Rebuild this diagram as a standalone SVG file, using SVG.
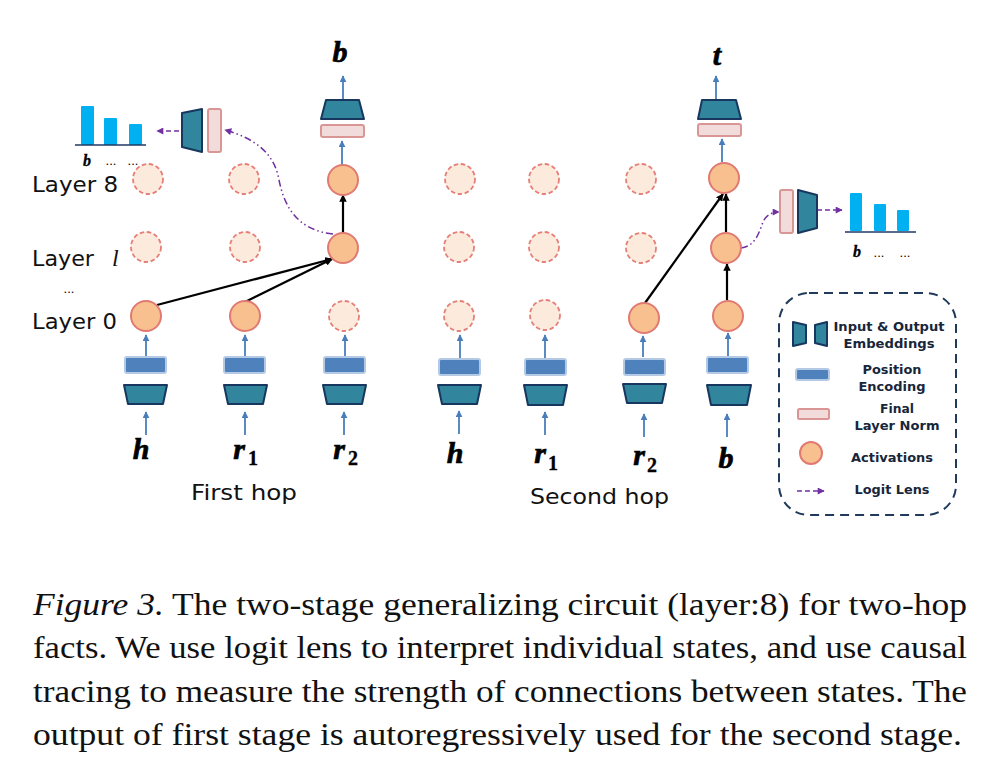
<svg xmlns="http://www.w3.org/2000/svg" width="1003" height="773" viewBox="0 0 1003 773">
<defs>
<marker id="ab" viewBox="0 0 10 10" refX="9" refY="5" markerWidth="7" markerHeight="7" markerUnits="userSpaceOnUse" orient="auto"><path d="M0 0L10 5L0 10Z" fill="#4a7ebb"/></marker>
<marker id="ak" viewBox="0 0 10 10" refX="9" refY="5" markerWidth="7.5" markerHeight="7.5" markerUnits="userSpaceOnUse" orient="auto"><path d="M0 0L10 5L0 10Z" fill="#000"/></marker>
<marker id="ap" viewBox="0 0 10 10" refX="9" refY="5" markerWidth="8" markerHeight="7" markerUnits="userSpaceOnUse" orient="auto"><path d="M0 0L10 5L0 10Z" fill="#7030a0"/></marker>
</defs>
<style>
.on{fill:#f8c08e;stroke:#e07a72;stroke-width:2}
.off{fill:#fcebdc;stroke:#e57f78;stroke-width:1.8;stroke-dasharray:4.5 2.6}
.pe{fill:#4f81bd;stroke:#b4c9e4;stroke-width:2}
.em{fill:#31859c;stroke:#17375e;stroke-width:2;stroke-linejoin:round}
.ln{fill:#f2dcdb;stroke:#d99694;stroke-width:2}
.bar{fill:#00b0f0}
.ax{stroke:#1f3864;stroke-width:1.3;fill:none}
.up{stroke:#4a7ebb;stroke-width:1.8;fill:none;marker-end:url(#ab)}
.bk{stroke:#000;stroke-width:2.2;fill:none;marker-end:url(#ak)}
.pd{stroke:#7030a0;stroke-width:1.6;fill:none;stroke-dasharray:5 3;marker-end:url(#ap)}
.pc{stroke:#7030a0;stroke-width:1.5;fill:none;stroke-dasharray:7 3 1.5 3 1.5 3;marker-end:url(#ap)}
.sf{font-family:"DejaVu Sans",sans-serif;font-size:22px;fill:#111}
.m{font-family:"Liberation Serif",serif;font-style:italic;font-weight:bold;font-size:30px;fill:#000;stroke:#000;stroke-width:.7;text-anchor:middle}
.s{font-family:"Liberation Serif",serif;font-weight:bold;font-size:20px;fill:#000;stroke:#000;stroke-width:.3}
.tick{font-family:"Liberation Serif",serif;font-style:italic;font-weight:bold;font-size:16px;fill:#000;stroke:#000;stroke-width:.3;text-anchor:middle}
.dots{font-family:"Liberation Sans",sans-serif;font-size:13px;fill:#000;text-anchor:middle}
.lg{font-family:"DejaVu Sans",sans-serif;font-weight:bold;font-size:13px;fill:#17263a;text-anchor:middle}
.cap{font-family:"Liberation Serif",serif;font-size:32px;fill:#111}
</style>

<g id="connectors">
<path class="up" d="M146 356V335"/><path class="up" d="M245 356V335"/><path class="up" d="M345 356V335"/>
<path class="up" d="M146 435V412"/><path class="up" d="M245 435V412"/><path class="up" d="M344 435V412"/>
<path class="up" d="M460 358V335"/><path class="up" d="M545 358V335"/><path class="up" d="M643 357V336"/><path class="up" d="M728 356V333"/>
<path class="up" d="M459 434V411"/><path class="up" d="M545 435V412"/><path class="up" d="M644 437V414"/><path class="up" d="M727 437V414"/>
<path class="up" d="M342 165V141"/><path class="up" d="M343 100V76"/>
<path class="up" d="M722 162V139"/><path class="up" d="M716 99V76"/>
<path class="bk" d="M157 305L332 259"/><path class="bk" d="M245 302L332 259"/><path class="bk" d="M343 233V195"/>
<path class="bk" d="M645 303L723 194"/><path class="bk" d="M727 300V264"/><path class="bk" d="M726 232V194"/>
<path class="pc" d="M333 234C296 230 284 205 279 180C274 150 250 137 225 130"/>
<path class="pc" d="M741 248C756 246 759 232 763 222C766 215 772 212 779 212"/>
<path class="pd" d="M179 131H157"/><path class="pd" d="M817 210H842"/>
</g>

<g id="layer-labels">
<text class="sf" x="32" y="192" textLength="86" lengthAdjust="spacingAndGlyphs">Layer 8</text>
<text class="sf" x="32" y="266" textLength="62" lengthAdjust="spacingAndGlyphs">Layer</text>
<text x="112" y="266" font-family="Liberation Serif,serif" font-style="italic" font-size="24" fill="#111">l</text>
<text class="dots" x="69" y="293">...</text>
<text class="sf" x="32" y="329" textLength="85" lengthAdjust="spacingAndGlyphs">Layer 0</text>
</g>

<g id="n-h1"><rect class="pe" x="125" y="357" width="41" height="16" rx="2"/><path class="em" d="M124 385H167L163 404H128Z"/><circle class="off" cx="148" cy="179" r="15"/><circle class="off" cx="146" cy="247" r="15"/><circle class="on" cx="146" cy="316" r="15"/></g>
<g id="n-r1a"><rect class="pe" x="224" y="357" width="41" height="16" rx="2"/><path class="em" d="M224 385H267L263 404H228Z"/><circle class="off" cx="244" cy="179" r="15"/><circle class="off" cx="245" cy="247" r="15"/><circle class="on" cx="245" cy="316" r="15"/></g>
<g id="n-r2a"><rect class="pe" x="324" y="357" width="41" height="16" rx="2"/><path class="em" d="M323 385H366L362 404H327Z"/><circle class="on" cx="343" cy="180" r="15"/><circle class="on" cx="343" cy="248" r="15"/><circle class="off" cx="344" cy="316" r="15"/><rect class="ln" x="321" y="125" width="43" height="12" rx="2"/><path class="em" d="M326 100H359L364 119H321Z"/></g>
<g id="n-h2"><rect class="pe" x="439" y="359" width="41" height="16" rx="2"/><path class="em" d="M438 385H481L477 404H442Z"/><circle class="off" cx="460" cy="179" r="15"/><circle class="off" cx="459" cy="247" r="15"/><circle class="off" cx="459" cy="316" r="15"/></g>
<g id="n-r1b"><rect class="pe" x="525" y="359" width="41" height="16" rx="2"/><path class="em" d="M524 385H567L563 405H528Z"/><circle class="off" cx="544" cy="179" r="15"/><circle class="off" cx="544" cy="247" r="15"/><circle class="off" cx="545" cy="315" r="15"/></g>
<g id="n-r2b"><rect class="pe" x="624" y="359" width="41" height="16" rx="2"/><path class="em" d="M623 384H666L662 403H627Z"/><circle class="off" cx="641" cy="179" r="15"/><circle class="off" cx="641" cy="248" r="15"/><circle class="on" cx="644" cy="318" r="15"/></g>
<g id="n-b"><rect class="pe" x="707" y="357" width="41" height="16" rx="2"/><path class="em" d="M707 385H751L747 405H711Z"/><circle class="on" cx="724" cy="178" r="15"/><circle class="on" cx="726" cy="248" r="15"/><circle class="on" cx="728" cy="316" r="15"/><rect class="ln" x="698" y="124" width="43" height="12" rx="2"/><path class="em" d="M702 100H736L741 119H698Z"/></g>

<g id="lens-left"><rect class="ln" x="208" y="109" width="13" height="43" rx="2"/><path class="em" d="M202 109V152L182 147V113Z"/></g>
<g id="chart-left">
<rect class="bar" x="81" y="106" width="13" height="39" rx="1"/><rect class="bar" x="104" y="118" width="13" height="27" rx="1"/><rect class="bar" x="129" y="124" width="13" height="21" rx="1"/>
<path class="ax" d="M75 145H146"/>
<text class="tick" x="87" y="166">b</text><text class="dots" x="111" y="165">...</text><text class="dots" x="133" y="165">...</text>
</g>
<g id="lens-right"><rect class="ln" x="780" y="190" width="13" height="43" rx="2"/><path class="em" d="M798 190L817 195V228L798 233Z"/></g>
<g id="chart-right">
<rect class="bar" x="850" y="193" width="12" height="38" rx="1"/><rect class="bar" x="874" y="204" width="12" height="27" rx="1"/><rect class="bar" x="897" y="210" width="12" height="21" rx="1"/>
<path class="ax" d="M845 232H916"/>
<text class="tick" x="857" y="257">b</text><text class="dots" x="879" y="257">...</text><text class="dots" x="905" y="257">...</text>
</g>

<g id="tokens">
<text class="m" x="141" y="459">h</text>
<text class="m" x="239" y="459">r</text><text class="s" x="248" y="465">1</text>
<text class="m" x="339" y="459">r</text><text class="s" x="348" y="465">2</text>
<text class="m" x="455" y="463">h</text>
<text class="m" x="540" y="463">r</text><text class="s" x="548" y="470">1</text>
<text class="m" x="639" y="465">r</text><text class="s" x="647" y="472">2</text>
<text class="m" x="726" y="468">b</text>
<text class="m" x="340" y="62">b</text>
<text class="m" x="717" y="65">t</text>
</g>
<g id="hop-labels">
<text class="sf" x="191" y="500" textLength="106" lengthAdjust="spacingAndGlyphs">First hop</text>
<text class="sf" x="530" y="504" textLength="139" lengthAdjust="spacingAndGlyphs">Second hop</text>
</g>

<g id="legend">
<rect x="779" y="293" width="177" height="222" rx="30" fill="none" stroke="#1f3a5a" stroke-width="2" stroke-dasharray="9 6"/>
<path class="em" d="M793 322L806 325V343L793 346Z"/><path class="em" d="M827 322L815 325V343L827 346Z"/>
<rect class="pe" x="796" y="369" width="33" height="11" rx="2"/>
<rect class="ln" x="798" y="409" width="31" height="10" rx="1.5"/>
<circle class="on" cx="811" cy="453" r="11"/>
<path class="pd" d="M797 491H824"/>
<text class="lg" x="889" y="331" textLength="111" lengthAdjust="spacingAndGlyphs">Input &amp; Output</text><text class="lg" x="889" y="348" textLength="91" lengthAdjust="spacingAndGlyphs">Embeddings</text>
<text class="lg" x="892" y="374" textLength="59" lengthAdjust="spacingAndGlyphs">Position</text><text class="lg" x="892" y="391" textLength="67" lengthAdjust="spacingAndGlyphs">Encoding</text>
<text class="lg" x="897" y="413" textLength="34" lengthAdjust="spacingAndGlyphs">Final</text><text class="lg" x="897" y="430" textLength="85" lengthAdjust="spacingAndGlyphs">Layer Norm</text>
<text class="lg" x="892" y="462" textLength="82" lengthAdjust="spacingAndGlyphs">Activations</text>
<text class="lg" x="892" y="494" textLength="75" lengthAdjust="spacingAndGlyphs">Logit Lens</text>
</g>

<g id="caption">
<text class="cap" x="33" y="615" textLength="934" lengthAdjust="spacingAndGlyphs"><tspan font-style="italic">Figure 3.</tspan> The two-stage generalizing circuit (layer:8) for two-hop</text>
<text class="cap" x="33" y="658" textLength="934" lengthAdjust="spacingAndGlyphs">facts. We use logit lens to interpret individual states, and use causal</text>
<text class="cap" x="33" y="702" textLength="934" lengthAdjust="spacingAndGlyphs">tracing to measure the strength of connections between states. The</text>
<text class="cap" x="33" y="745" textLength="929" lengthAdjust="spacingAndGlyphs">output of first stage is autoregressively used for the second stage.</text>
</g>
</svg>
